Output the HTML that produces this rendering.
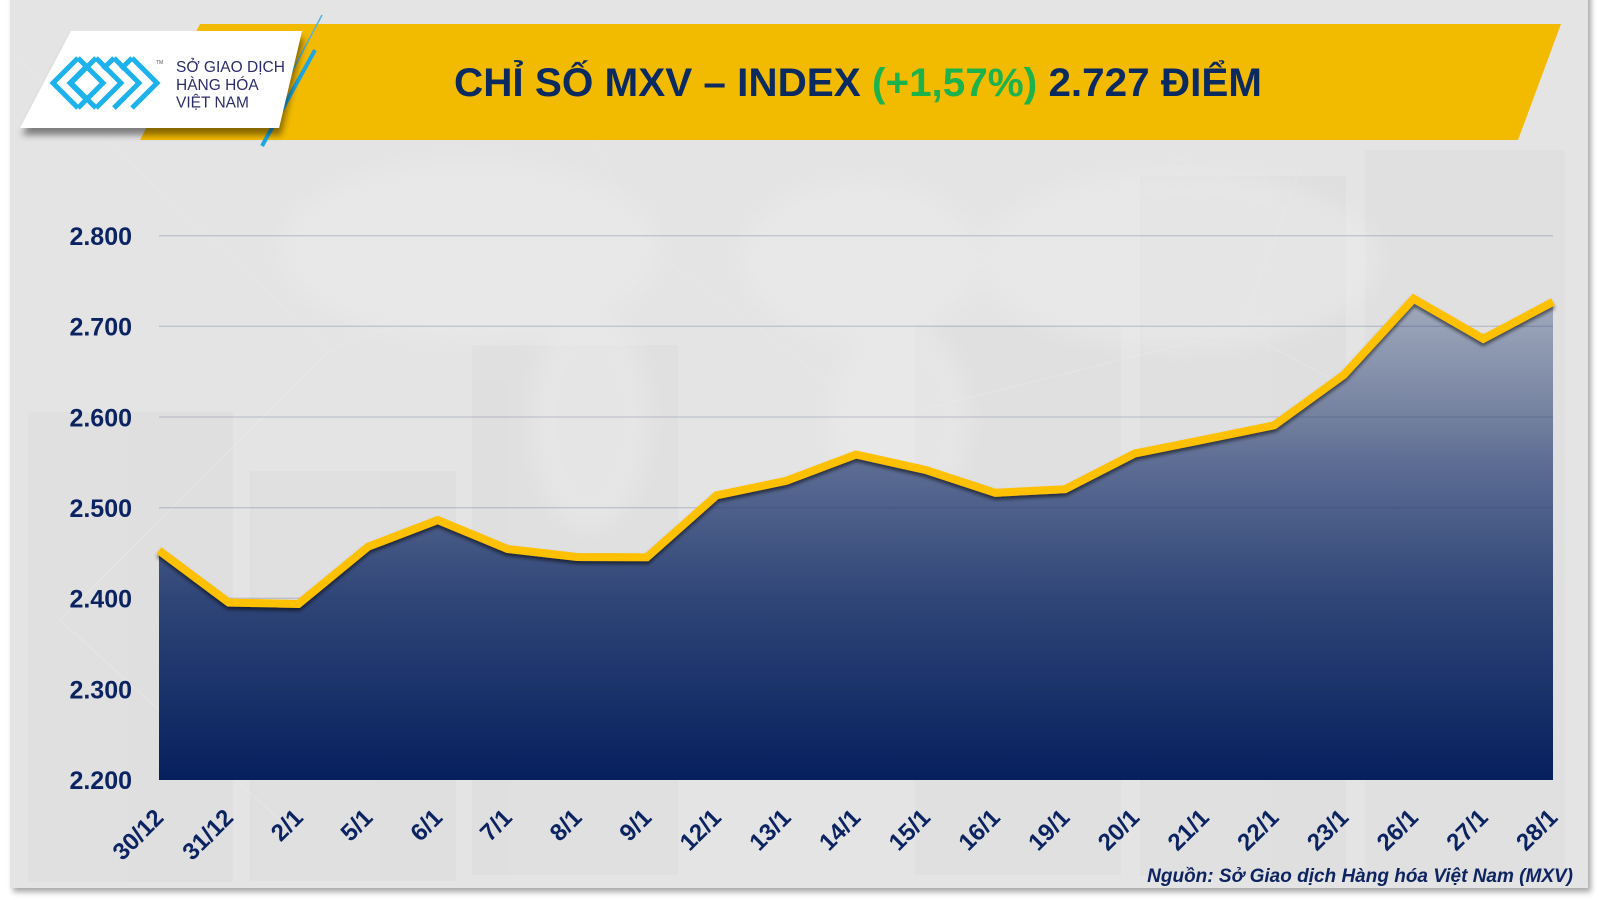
<!DOCTYPE html>
<html><head><meta charset="utf-8">
<style>
html,body{margin:0;padding:0;background:#ffffff;}
body{width:1600px;height:900px;overflow:hidden;position:relative;}
svg{position:absolute;left:0;top:0;}
</style></head>
<body>
<svg width="1600" height="900" viewBox="0 0 1600 900" xmlns="http://www.w3.org/2000/svg">
  <defs>
    <filter id="cardsh" x="-5%" y="-5%" width="110%" height="110%">
      <feDropShadow dx="3" dy="4" stdDeviation="3" flood-color="#000" flood-opacity="0.35"/>
    </filter>
    <filter id="wsh" x="-10%" y="-20%" width="120%" height="160%">
      <feDropShadow dx="2" dy="7" stdDeviation="3.5" flood-color="#000" flood-opacity="0.45"/>
    </filter>
    <filter id="lsh" x="-5%" y="-20%" width="110%" height="140%">
      <feDropShadow dx="0" dy="3" stdDeviation="1.8" flood-color="#000" flood-opacity="0.55"/>
    </filter>
    <filter id="blur8"><feGaussianBlur stdDeviation="10"/></filter>
    <linearGradient id="fillg" gradientUnits="userSpaceOnUse" x1="0" y1="295" x2="0" y2="780">
      <stop offset="0" stop-color="#a3acbf"/>
      <stop offset="0.25" stop-color="#74819f"/>
      <stop offset="0.34" stop-color="#5e6e95"/>
      <stop offset="0.63" stop-color="#2f4577"/>
      <stop offset="1" stop-color="#06205e"/>
    </linearGradient>
  </defs>

  <!-- card -->
  <rect x="10" y="-10" width="1578" height="898" fill="#e4e4e4" filter="url(#cardsh)"/>

  <!-- faint background decorations -->
  <g opacity="0.3">
    <rect x="28" y="412" width="205" height="470" fill="#d6d6d6"/>
    <rect x="250" y="471" width="206" height="410" fill="#d6d6d6"/>
    <rect x="472" y="345" width="206" height="530" fill="#d6d6d6"/>
    <rect x="915" y="325" width="206" height="550" fill="#d8d8d8"/>
    <rect x="1140" y="176" width="206" height="700" fill="#d6d6d6"/>
    <rect x="1365" y="150" width="200" height="730" fill="#d8d8d8"/>
  </g>
  <g fill="#eeeeee" opacity="0.4" filter="url(#blur8)">
    <ellipse cx="470" cy="250" rx="190" ry="90"/>
    <ellipse cx="590" cy="420" rx="60" ry="110"/>
    <ellipse cx="860" cy="260" rx="120" ry="80"/>
    <ellipse cx="900" cy="420" rx="70" ry="100"/>
    <ellipse cx="1180" cy="260" rx="200" ry="90"/>
  </g>
  <g stroke="#eaeaea" stroke-width="1" opacity="0.6" fill="none">
    <path d="M20 60 L330 350 L60 620 M330 350 L640 240 L880 420 M880 420 L1240 330 L1520 480 M1240 330 L1300 170 M640 240 L560 60 M60 620 L280 820"/>
  </g>

  <!-- yellow banner -->
  <polygon points="200,24 1561,24 1518,140 140,140" fill="#f3bb00"/>
  <!-- blue slashes -->
  <line x1="322" y1="15" x2="270" y2="113" stroke="#4fb3e3" stroke-width="1.5"/>
  <line x1="315" y1="50" x2="262" y2="146" stroke="#1ea6e4" stroke-width="4"/>
  <!-- white logo panel -->
  <polygon points="71,31 302,31 279,128 20,128" fill="#ffffff" filter="url(#wsh)"/>

  <!-- logo icon -->
  <g fill="none" stroke="#1eb2ec" stroke-width="5" stroke-linejoin="miter">
    <polyline points="78,58 53,83 78,108"/>
    <polyline points="86,67 70,83 86,99"/>
    <polyline points="78,58 103,83 78,108"/>
    <polyline points="96,58 121,83 96,108"/>
    <polyline points="96,58 71,83 96,108"/>
    <polyline points="114,58 139,83 114,108"/>
    <polyline points="114,58 103,69"/>
    <polyline points="132,58 157,83 132,108"/>
    <polyline points="114,108 125,97"/>
    <polyline points="132,58 121,69"/>
  </g>
  <text x="156" y="64" font-family="Liberation Sans, sans-serif" font-size="5" fill="#555">TM</text>
  <g font-family="Liberation Sans, sans-serif" font-size="15.5" fill="#2d2c6a">
    <text x="176" y="72">SỞ GIAO DỊCH</text>
    <text x="176" y="90">HÀNG HÓA</text>
    <text x="176" y="107.5">VIỆT NAM</text>
  </g>

  <!-- title -->
  <text x="454" y="96" font-family="Liberation Sans, sans-serif" font-weight="bold" font-size="40" fill="#0b2a60" textLength="808" lengthAdjust="spacingAndGlyphs">CHỈ SỐ MXV – INDEX <tspan fill="#1cb24c">(+1,57%)</tspan> 2.727 ĐIỂM</text>

  <!-- area fill -->
  <polygon fill="url(#fillg)" points="159,550.5 228.7,602.5 298.4,604 368.1,546.7 437.8,520 507.5,549 577.2,557 646.9,557.3 716.6,495.3 786.3,480.8 856,454.5 925.7,470 995.4,492.8 1065.1,489.2 1134.8,453.5 1204.5,439.5 1274.2,425.3 1343.9,374.8 1413.6,298.7 1483.3,338.8 1553,301.8 1553,780 159,780"/>

  <!-- gridlines -->
  <g stroke="#2a3e6e" stroke-opacity="0.2" stroke-width="1.3">
    <line x1="159" y1="235.7" x2="1553" y2="235.7"/>
    <line x1="159" y1="326.3" x2="1553" y2="326.3"/>
    <line x1="159" y1="417" x2="1553" y2="417"/>
    <line x1="159" y1="507.7" x2="1553" y2="507.7"/>
    <line x1="159" y1="598.3" x2="1553" y2="598.3"/>
    <line x1="159" y1="689" x2="1553" y2="689"/>
  </g>

  <!-- line -->
  <polyline fill="none" stroke="#ffc000" stroke-width="8" stroke-linejoin="miter" stroke-miterlimit="10" filter="url(#lsh)" points="159,550.5 228.7,602.5 298.4,604 368.1,546.7 437.8,520 507.5,549 577.2,557 646.9,557.3 716.6,495.3 786.3,480.8 856,454.5 925.7,470 995.4,492.8 1065.1,489.2 1134.8,453.5 1204.5,439.5 1274.2,425.3 1343.9,374.8 1413.6,298.7 1483.3,338.8 1553,301.8"/>

  <!-- y labels -->
  <g font-family="Liberation Sans, sans-serif" font-weight="bold" font-size="25" fill="#0b2461" text-anchor="end">
    <text x="132" y="245">2.800</text>
    <text x="132" y="335.6">2.700</text>
    <text x="132" y="426.3">2.600</text>
    <text x="132" y="517">2.500</text>
    <text x="132" y="607.6">2.400</text>
    <text x="132" y="698.3">2.300</text>
    <text x="132" y="789">2.200</text>
  </g>

  <!-- x labels -->
  <g font-family="Liberation Sans, sans-serif" font-weight="bold" font-size="24" fill="#0b2461" text-anchor="end">
    <text transform="translate(165,819) rotate(-45)">30/12</text>
    <text transform="translate(234.7,819) rotate(-45)">31/12</text>
    <text transform="translate(304.4,819) rotate(-45)">2/1</text>
    <text transform="translate(374.1,819) rotate(-45)">5/1</text>
    <text transform="translate(443.8,819) rotate(-45)">6/1</text>
    <text transform="translate(513.5,819) rotate(-45)">7/1</text>
    <text transform="translate(583.2,819) rotate(-45)">8/1</text>
    <text transform="translate(652.9,819) rotate(-45)">9/1</text>
    <text transform="translate(722.6,819) rotate(-45)">12/1</text>
    <text transform="translate(792.3,819) rotate(-45)">13/1</text>
    <text transform="translate(862,819) rotate(-45)">14/1</text>
    <text transform="translate(931.7,819) rotate(-45)">15/1</text>
    <text transform="translate(1001.4,819) rotate(-45)">16/1</text>
    <text transform="translate(1071.1,819) rotate(-45)">19/1</text>
    <text transform="translate(1140.8,819) rotate(-45)">20/1</text>
    <text transform="translate(1210.5,819) rotate(-45)">21/1</text>
    <text transform="translate(1280.2,819) rotate(-45)">22/1</text>
    <text transform="translate(1349.9,819) rotate(-45)">23/1</text>
    <text transform="translate(1419.6,819) rotate(-45)">26/1</text>
    <text transform="translate(1489.3,819) rotate(-45)">27/1</text>
    <text transform="translate(1559,819) rotate(-45)">28/1</text>
  </g>

  <!-- source -->
  <text x="1573" y="882" text-anchor="end" font-family="Liberation Sans, sans-serif" font-weight="bold" font-style="italic" font-size="19" fill="#0d2460">Nguồn: Sở Giao dịch Hàng hóa Việt Nam (MXV)</text>
</svg>
</body></html>
